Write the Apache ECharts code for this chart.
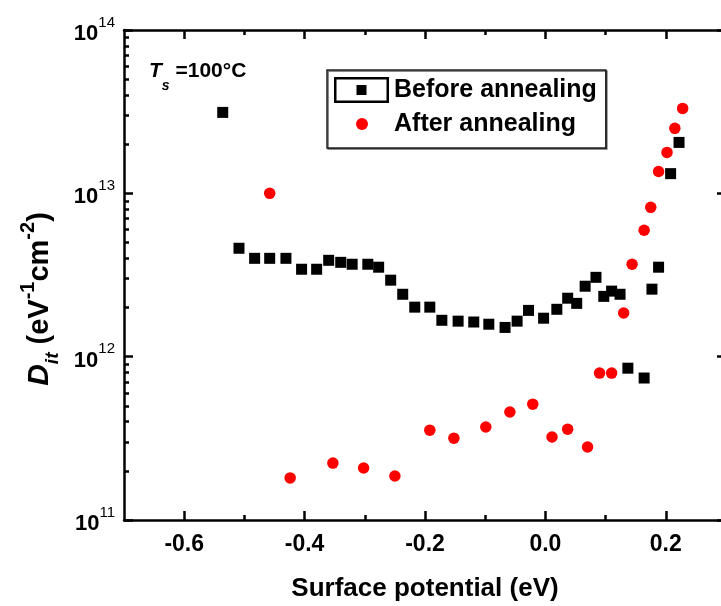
<!DOCTYPE html>
<html>
<head>
<meta charset="utf-8">
<script src="https://cdn.jsdelivr.net/npm/echarts@6/dist/echarts.min.js"></script>
<style>
html,body{margin:0;padding:0;background:#fff;}
#chart{width:721px;height:606px;}
</style>
</head>
<body>
<div id="chart"></div>
<script>
// ---- data ----
var beforeX = [-0.536,-0.509,-0.483,-0.458,-0.431,-0.405,-0.380,-0.360,-0.340,-0.321,-0.295,-0.277,-0.257,-0.237,-0.217,-0.192,-0.172,-0.145,-0.119,-0.094,-0.067,-0.047,-0.028,-0.003,0.019,0.037,0.052,0.066,0.084,0.097,0.110,0.124,0.137,0.164,0.177,0.188,0.208,0.222];
var beforeY = [3.13e13,4.61e12,4.0e12,4.0e12,4.0e12,3.43e12,3.43e12,3.89e12,3.78e12,3.68e12,3.68e12,3.53e12,2.94e12,2.41e12,2.01e12,2.01e12,1.67e12,1.65e12,1.63e12,1.58e12,1.51e12,1.65e12,1.92e12,1.72e12,1.95e12,2.28e12,2.12e12,2.70e12,3.06e12,2.34e12,2.52e12,2.41e12,8.5e11,7.4e11,2.59e12,3.53e12,1.32e13,2.05e13];
var afterX = [-0.458,-0.424,-0.353,-0.302,-0.250,-0.192,-0.152,-0.099,-0.059,-0.021,0.011,0.037,0.070,0.090,0.110,0.130,0.144,0.164,0.175,0.188,0.202,0.215,0.228];
var afterY = [1.0e13,1.81e11,2.23e11,2.08e11,1.86e11,3.55e11,3.17e11,3.71e11,4.58e11,5.12e11,3.22e11,3.60e11,2.80e11,7.93e11,7.93e11,1.85e12,3.68e12,5.94e12,8.21e12,1.36e13,1.78e13,2.50e13,3.31e13];
var xMajorTicks = [-0.6,-0.4,-0.2,0.0,0.2];
var xMinorTicks = [-0.5,-0.3,-0.1,0.1];
var yMinorTicks = [2e11,3e11,4e11,5e11,6e11,7e11,8e11,9e11,2e12,3e12,4e12,5e12,6e12,7e12,8e12,9e12,2e13,3e13,4e13,5e13,6e13,7e13,8e13,9e13];
var seriesNames = ['Before annealing','After annealing'];

function pairs(xs, ys){ return xs.map(function(x,i){ return [x, ys[i]]; }); }
var yMinorExp = yMinorTicks.map(function(v){ return Math.log(v)/Math.LN10; });

var FONT = 'Arial, "Liberation Sans", sans-serif';
var LW = 2.5;

var chart = echarts.init(document.getElementById('chart'), null, {renderer:'canvas'});

function xAx(pos, ticks, showLine, len, showLabel){
  return {
    type:'value', position:pos, min:-0.7, max:0.3,
    axisLine:{show:showLine, onZero:false, lineStyle:{color:'#000', width:LW}},
    axisTick:{show:true, inside:true, length:len, customValues:ticks, lineStyle:{color:'#000', width:LW}},
    axisLabel:{show:showLabel, customValues:ticks, margin:13, fontSize:23, fontWeight:'bold', color:'#000', fontFamily:FONT,
      formatter:function(v){ return v.toFixed(1); }},
    splitLine:{show:false}, minorTick:{show:false}
  };
}
function yAxMajor(pos, showLabel){
  return {
    type:'log', logBase:10, position:pos, min:1e11, max:1e14,
    axisLine:{show:true, onZero:false, lineStyle:{color:'#000', width:LW}},
    axisTick:{show:true, inside:true, length:9, lineStyle:{color:'#000', width:LW}},
    axisLabel:{show:showLabel, margin:9, fontFamily:FONT, color:'#000',
      formatter:function(v){ var e = Math.round(Math.log(v)/Math.LN10); return '{b|10}{s|' + e + '}'; },
      rich:{
        b:{fontSize:22, fontWeight:'bold', fontFamily:FONT, color:'#000', lineHeight:30, verticalAlign:'bottom'},
        s:{fontSize:15, fontWeight:'normal', fontFamily:FONT, color:'#000', lineHeight:10, verticalAlign:'top'}
      }},
    splitLine:{show:false}, minorTick:{show:false}
  };
}
// minor ticks of the log axis, placed on a linear exponent axis with the same extent (11..14)
function yAxMinor(pos){
  return {
    type:'value', position:pos, min:11, max:14,
    axisLine:{show:false, onZero:false},
    axisTick:{show:true, inside:true, length:5, customValues:yMinorExp, lineStyle:{color:'#000', width:LW}},
    axisLabel:{show:false}, splitLine:{show:false}, minorTick:{show:false}
  };
}

var yMain = yAxMajor('left', true);
yMain.name = '{d|D}{sub|it}{m| (eV}{sup|-1}{m|cm}{sup|-2}{m|)}';
yMain.nameLocation = 'middle';
yMain.nameGap = 62;
yMain.nameRotate = 90;
yMain.nameTextStyle = {
  fontFamily:FONT, color:'#000', padding:[0,48,0,0],
  rich:{
    d:{fontSize:30, fontStyle:'italic', fontWeight:'bold', fontFamily:FONT, color:'#000', lineHeight:44, verticalAlign:'middle'},
    sub:{fontSize:19, fontStyle:'italic', fontWeight:'bold', fontFamily:FONT, color:'#000', lineHeight:44, verticalAlign:'bottom'},
    m:{fontSize:29, fontWeight:'bold', fontFamily:FONT, color:'#000', lineHeight:44, verticalAlign:'middle'},
    sup:{fontSize:20, fontWeight:'bold', fontFamily:FONT, color:'#000', lineHeight:44, verticalAlign:'top'}
  }
};

var xMain = xAx('bottom', xMajorTicks, true, 9, true);
xMain.name = 'Surface potential (eV)';
xMain.nameLocation = 'middle';
xMain.nameGap = 56;
xMain.nameTextStyle = {fontSize:26, fontWeight:'bold', color:'#000', fontFamily:FONT};

var option = {
  backgroundColor:'#fff',
  animation:false,
  title:{
    text:'{t|T}{s|s}{n| =100°C}',
    left:149, top:61, padding:0,
    textStyle:{
      rich:{
        t:{fontSize:21, fontStyle:'italic', fontFamily:FONT, color:'#000', lineHeight:32, verticalAlign:'top'},
        s:{fontSize:14, fontStyle:'italic', fontFamily:FONT, color:'#000', lineHeight:32, verticalAlign:'bottom'},
        n:{fontSize:21, fontFamily:FONT, color:'#000', lineHeight:32, verticalAlign:'top'}
      }
    }
  },
  legend:{
    orient:'vertical', left:327, top:70, padding:[7,9,11,7],
    itemWidth:55, itemHeight:26, itemGap:8, selectedMode:false,
    backgroundColor:'#fff', borderColor:'#222', borderWidth:1.5,
    shadowColor:'rgba(0,0,0,0.6)', shadowOffsetX:1, shadowOffsetY:1, shadowBlur:0,
    textStyle:{fontSize:25, fontWeight:'bold', color:'#000', fontFamily:FONT},
    data:[
      {name:seriesNames[0], icon:'path://M0 0 H55 V26 H0 Z M2.5 2.5 V23.5 H52.5 V2.5 Z M22.5 8 H32.5 V18 H22.5 Z'},
      {name:seriesNames[1], icon:'path://M0 0 M55 26 M22 13 A6 6 0 1 1 34 13 A6 6 0 1 1 22 13 Z'}
    ]
  },
  grid:{left:124, top:30, right:-5, bottom:86, containLabel:false, outerBoundsMode:'none'},
  xAxis:[
    xMain,
    xAx('bottom', xMinorTicks, false, 5, false),
    xAx('top', xMajorTicks, true, 9, false),
    xAx('top', xMinorTicks, false, 5, false)
  ],
  yAxis:[
    yMain,
    yAxMinor('left'),
    yAxMajor('right', false),
    yAxMinor('right')
  ],
  series:[
    {name:seriesNames[0], type:'scatter', xAxisIndex:0, yAxisIndex:0, symbol:'rect', symbolSize:11,
     itemStyle:{color:'#000', opacity:1}, data:pairs(beforeX, beforeY), z:3},
    {name:seriesNames[1], type:'scatter', xAxisIndex:0, yAxisIndex:0, symbol:'circle', symbolSize:11.5,
     itemStyle:{color:'#ff0000', opacity:1}, data:pairs(afterX, afterY), z:4}
  ]
};
chart.setOption(option);
</script>
</body>
</html>
